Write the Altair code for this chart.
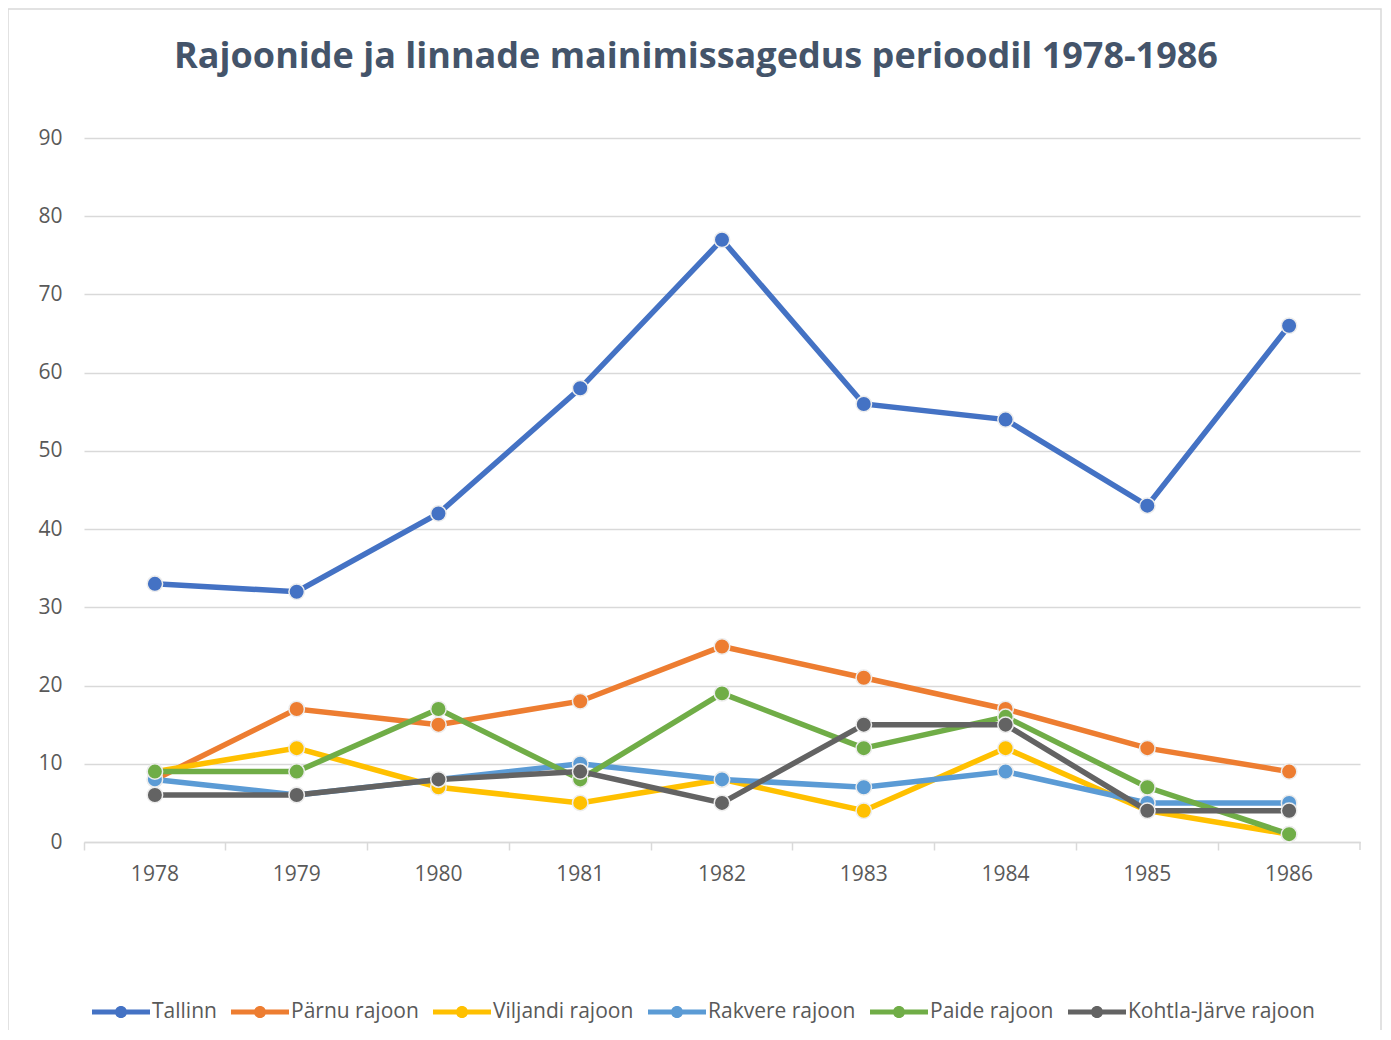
import altair as alt
import pandas as pd

years = ["1978", "1979", "1980", "1981", "1982", "1983", "1984", "1985", "1986"]
series_names = ["Tallinn", "Pärnu rajoon", "Viljandi rajoon", "Rakvere rajoon", "Paide rajoon", "Kohtla-Järve rajoon"]
tallinn = [33, 32, 42, 58, 77, 56, 54, 43, 66]
parnu = [8, 17, 15, 18, 25, 21, 17, 12, 9]
viljandi = [9, 12, 7, 5, 8, 4, 12, 4, 1]
rakvere = [8, 6, 8, 10, 8, 7, 9, 5, 5]
paide = [9, 9, 17, 8, 19, 12, 16, 7, 1]
kohtla = [6, 6, 8, 9, 5, 15, 15, 4, 4]
colors = ["#4472C4", "#ED7D31", "#FFC000", "#5B9BD5", "#70AD47", "#636363"]
title_text = "Rajoonide ja linnade mainimissagedus perioodil 1978-1986"

values = [tallinn, parnu, viljandi, rakvere, paide, kohtla]
rows = []
for i, (name, vals) in enumerate(zip(series_names, values)):
    for y, v in zip(years, vals):
        rows.append({"Aasta": y, "Sari": name, "Väärtus": v, "ord": i})
df = pd.DataFrame(rows)

W, H = 1276, 704
FONT = "Open Sans"

legend_path = ("M-1,-0.085 L1,-0.085 L1,0.085 L-1,0.085 Z "
               "M0.21,0 A0.21,0.21 0 1,1 -0.21,0 A0.21,0.21 0 1,1 0.21,0 Z")

color = alt.Color(
    "Sari:N",
    scale=alt.Scale(domain=series_names, range=colors),
    legend=alt.Legend(
        title=None, orient="none", direction="horizontal",
        legendX=8, legendY=845, symbolType=legend_path, symbolSize=3364,
        symbolStrokeWidth=0, labelFont=FONT, labelFontSize=21,
        labelColor="#595959", labelOffset=2, columnPadding=14, columns=6,
        labelLimit=400,
    ),
)

x = alt.X(
    "Aasta:O", sort=years, bandPosition=0.5, title=None,
    scale=alt.Scale(type="band", paddingInner=0, paddingOuter=0),
    axis=alt.Axis(labelAngle=0, bandPosition=0, domainColor="#D9D9D9", domainWidth=1.5,
                  tickColor="#D9D9D9", tickWidth=1.5, tickSize=8, labelPadding=13,
                  labelFont=FONT, labelFontSize=21, labelColor="#595959", grid=False),
)
y = alt.Y(
    "Väärtus:Q", title=None,
    scale=alt.Scale(domain=[0, 90], nice=False),
    axis=alt.Axis(values=list(range(0, 91, 10)), domain=False, ticks=False,
                  labelPadding=22, labelFont=FONT, labelFontSize=21, labelColor="#595959",
                  gridColor="#D9D9D9", gridWidth=1.5),
)

base = alt.Chart(df)

one = pd.DataFrame({"t": [title_text]})
frame = alt.Chart(one).mark_rect(fill=None, stroke="#D9D9D9", strokeWidth=1.5).encode(
    x=alt.value(-76), x2=alt.value(1297), y=alt.value(-129), y2=alt.value(920)
)
title = alt.Chart(one).mark_text(
    font=FONT, fontSize=36, fontWeight="bold", color="#44546A", align="center", baseline="middle"
).encode(text="t:N", x=alt.value(612), y=alt.value(-81))
end_tick = alt.Chart(one).mark_rule(color="#D9D9D9", strokeWidth=1.5).encode(
    x=alt.value(W), y=alt.value(H), y2=alt.value(H + 8)
)

layers = []
for i, name in enumerate(series_names):
    sub = base.transform_filter(alt.datum.Sari == name)
    layers.append(sub.mark_line(strokeWidth=5.5).encode(x=x, y=y, color=color))
    layers.append(sub.mark_point(filled=True, size=240, stroke="#EDEDED", strokeWidth=1.5, opacity=1).encode(
        x=x, y=y, fill=alt.Fill("Sari:N", scale=alt.Scale(domain=series_names, range=colors), legend=None)))

chart = alt.layer(frame, title, end_tick, *layers).properties(
    width=W, height=H,
    autosize=alt.AutoSizeParams(type="none"),
    padding={"left": 76, "top": 130, "right": 23, "bottom": 188},
).configure_view(stroke=None).configure_axis(labelFont=FONT)

chart.save("out.html", embed_options={"renderer": "svg", "actions": False})
